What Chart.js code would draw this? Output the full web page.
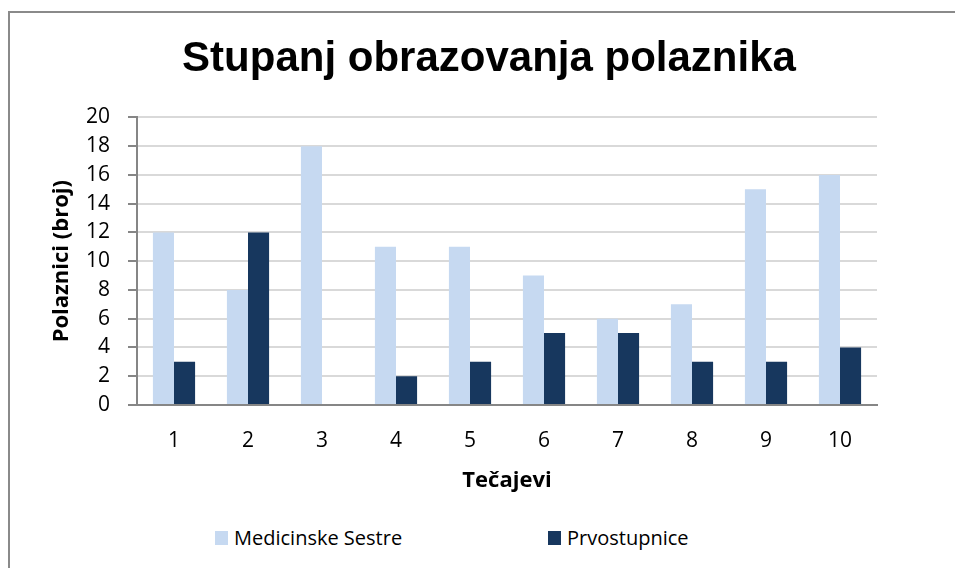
<!DOCTYPE html>
<html>
<head>
<meta charset="utf-8">
<script src="https://cdn.jsdelivr.net/npm/chart.js@4/dist/chart.umd.min.js"></script>
<style>
  html, body { margin: 0; padding: 0; background: #fff; overflow: hidden; width: 955px; height: 568px; }
  #frame { position: absolute; left: 8px; top: 11px; width: 958px; height: 600px; border: 2px solid #8a8a8a; }
  #chart { display: block; }
  .leg { position: absolute; top: 524px; font: 20px "Open Sans", sans-serif; color: #000; display: flex; align-items: center; white-space: nowrap; }
  .leg i { display: inline-block; width: 13px; height: 14px; margin-right: 6px; }
</style>
</head>
<body>
<div id="frame"><canvas id="chart" width="958" height="500"></canvas></div>
<div class="leg" id="leg1" style="left:215px"><i></i><span></span></div>
<div class="leg" id="leg2" style="left:548px"><i></i><span></span></div>
<script>
const chartTitle = 'Stupanj obrazovanja polaznika';
const categories = ['1', '2', '3', '4', '5', '6', '7', '8', '9', '10'];
const seriesNames = ['Medicinske Sestre', 'Prvostupnice'];
const medicinskeSestre = [12, 8, 18, 11, 11, 9, 6, 7, 15, 16];
const prvostupnice = [3, 12, 0, 2, 3, 5, 5, 3, 3, 4];
const yTicks = [0, 2, 4, 6, 8, 10, 12, 14, 16, 18, 20];
const xTitle = 'Tečajevi';
const yTitle = 'Polaznici (broj)';
const colors = ['#c6d9f1', '#17375e'];

// html legend (wide spacing like the original)
[seriesNames[0], seriesNames[1]].forEach((name, i) => {
    const el = document.getElementById('leg' + (i + 1));
    el.querySelector('i').style.background = colors[i];
    el.querySelector('span').textContent = name;
});

const ctx = document.getElementById('chart').getContext('2d');
new Chart(ctx, {
    type: 'bar',
    data: {
        labels: categories,
        datasets: [
            { label: seriesNames[0], data: medicinskeSestre, backgroundColor: colors[0] },
            { label: seriesNames[1], data: prvostupnice, backgroundColor: colors[1] }
        ]
    },
    options: {
        responsive: false,
        animation: false,
        layout: { padding: { left: 0, right: 0, top: 0, bottom: 19 } },
        datasets: { bar: { categoryPercentage: 0.57, barPercentage: 1 } },
        plugins: {
            legend: { display: false },
            tooltip: { enabled: false },
            title: {
                display: true,
                text: chartTitle,
                color: '#000',
                font: { family: '"Liberation Sans", Arial, sans-serif', size: 42, weight: 'bold', lineHeight: 1.2 },
                padding: { top: 21, bottom: 33 }
            }
        },
        scales: {
            x: {
                afterFit: (scale) => { scale.height = 89; },
                grid: { display: false, drawTicks: false },
                border: { color: '#868686', width: 2 },
                ticks: { color: '#000', padding: 23, font: { family: '"Open Sans", sans-serif', size: 21, lineHeight: 1.2 } },
                title: {
                    display: true, text: xTitle, color: '#000',
                    font: { family: '"Open Sans", sans-serif', size: 22, weight: 'bold', lineHeight: 1.2 },
                    padding: { top: 0, bottom: 0 }
                }
            },
            y: {
                min: 0,
                max: 20,
                afterBuildTicks: (scale) => { scale.ticks = yTicks.map(v => ({ value: v })); },
                afterFit: (scale) => { scale.width = 127; },
                grid: { color: '#d9d9d9', tickColor: '#868686', tickLength: 9, lineWidth: 2 },
                border: { color: '#868686', width: 2 },
                ticks: { color: '#000', padding: 18, autoSkip: false, font: { family: '"Open Sans", sans-serif', size: 21 } },
                title: {
                    display: true, text: yTitle, color: '#000',
                    font: { family: '"Open Sans", sans-serif', size: 22, weight: 'bold', lineHeight: 1.2 },
                    padding: { top: 39, bottom: 0 }
                }
            },
            // empty right-hand space, as in the original plot area
            yRight: {
                position: 'right',
                grid: { display: false, drawTicks: false },
                border: { display: false },
                ticks: { display: false },
                afterFit: (scale) => { scale.width = 91; }
            }
        }
    }
});
</script>
</body>
</html>
